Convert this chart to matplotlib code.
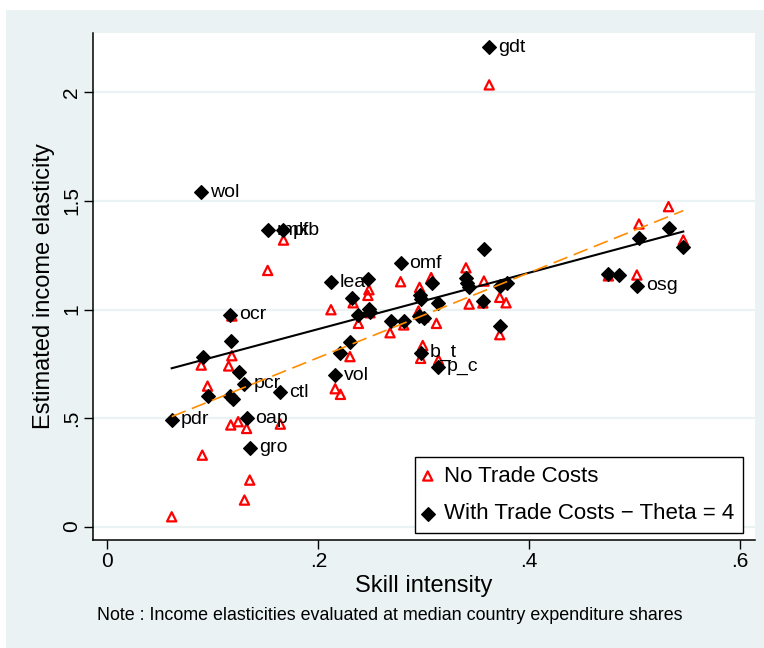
import numpy as np
import matplotlib
matplotlib.use("Agg")
import matplotlib.pyplot as plt
from matplotlib.patches import Rectangle

plt.rcParams['font.family'] = ['Liberation Sans', 'DejaVu Sans']

# No trade costs (red hollow triangles)
x_no_tc = [0.061, 0.089, 0.090, 0.095, 0.118, 0.118, 0.115, 0.117, 0.124, 0.132,
           0.135, 0.130, 0.152, 0.164, 0.167, 0.212, 0.216, 0.221, 0.230, 0.233,
           0.238, 0.248, 0.247, 0.268, 0.278, 0.281, 0.296, 0.295, 0.299, 0.297,
           0.307, 0.312, 0.314, 0.340, 0.343, 0.357, 0.356, 0.362, 0.372, 0.378,
           0.372, 0.475, 0.502, 0.504, 0.532, 0.546, 0.249, 0.300]
y_no_tc = [0.045, 0.744, 0.329, 0.647, 0.970, 0.787, 0.740, 0.468, 0.483, 0.452,
           0.214, 0.122, 1.180, 0.472, 1.320, 0.999, 0.635, 0.609, 0.783, 1.031,
           0.936, 1.091, 1.065, 0.893, 1.128, 0.929, 1.102, 0.993, 0.834, 0.775,
           1.147, 0.936, 0.767, 1.192, 1.025, 1.131, 1.030, 2.035, 1.056, 1.031,
           0.884, 1.155, 1.159, 1.394, 1.474, 1.320, 0.985, 0.965]

# With trade costs, theta = 4 (black diamonds)
x_tc = [0.061, 0.089, 0.091, 0.095, 0.116, 0.117, 0.116, 0.119, 0.125, 0.130,
        0.132, 0.135, 0.152, 0.164, 0.167, 0.212, 0.216, 0.221, 0.230, 0.232,
        0.238, 0.247, 0.248, 0.249, 0.269, 0.278, 0.281, 0.296, 0.297, 0.295,
        0.300, 0.297, 0.308, 0.313, 0.313, 0.340, 0.341, 0.343, 0.356, 0.357,
        0.362, 0.372, 0.379, 0.372, 0.475, 0.485, 0.502, 0.504, 0.532, 0.546]
y_tc = [0.491, 1.541, 0.780, 0.601, 0.975, 0.856, 0.600, 0.588, 0.711, 0.657,
        0.499, 0.363, 1.366, 0.618, 1.366, 1.125, 0.697, 0.800, 0.850, 1.053,
        0.975, 1.139, 1.002, 0.990, 0.947, 1.212, 0.948, 1.067, 1.047, 0.970,
        0.960, 0.801, 1.120, 1.029, 0.736, 1.144, 1.121, 1.105, 1.040, 1.278,
        2.208, 1.110, 1.124, 0.925, 1.164, 1.160, 1.110, 1.328, 1.377, 1.290]
labels_tc = ['pdr', 'wol', '', '', 'ocr', '', '', '', '', 'pcr',
             'oap', 'gro', 'rmk', 'ctl', 'pfb', 'lea', 'vol', '', '', '',
             '', '', '', '', '', 'omf', '', '', '', '',
             '', 'b_t', '', '', 'p_c', '', '', '', '', '',
             'gdt', '', '', '', '', '', 'osg', '', '', '']

# linear fits: (intercept, slope)
fit_no_tc = (0.387, 1.957)
fit_tc = (0.650, 1.299)

x_ticks = [0, 0.2, 0.4, 0.6]
x_tick_labels = ['0', '.2', '.4', '.6']
y_ticks = [0, 0.5, 1, 1.5, 2]
y_tick_labels = ['0', '.5', '1', '1.5', '2']

bg = '#EAF2F3'
fig = plt.figure(figsize=(7.64, 6.48), dpi=100)
fig.patch.set_facecolor('white')
fig.patches.append(Rectangle((6 / 764, 0), 1 - 6 / 764, 1 - 10 / 648,
                             transform=fig.transFigure, facecolor=bg,
                             edgecolor='none', zorder=-10))

ax = fig.add_axes([93 / 764, 1 - 540 / 648, (755 - 93) / 764, (540 - 33) / 648])
ax.set_facecolor('white')
ax.set_xlim(-0.0136, 0.614)
ax.set_ylim(-0.062, 2.274)

for s in ['top', 'right']:
    ax.spines[s].set_visible(False)
for s in ['left', 'bottom']:
    ax.spines[s].set_linewidth(1.1)
    ax.spines[s].set_color('black')

ax.set_xticks(x_ticks)
ax.set_xticklabels(x_tick_labels)
ax.set_yticks(y_ticks)
ax.set_yticklabels(y_tick_labels, rotation=90, va='center')
ax.tick_params(axis='both', labelsize=15, length=6.5, width=1.0, pad=2)
ax.yaxis.grid(True, color=bg, linewidth=1.6)
ax.set_axisbelow(True)

ax.scatter(x_no_tc, y_no_tc, marker='^', s=44, facecolors='none',
           edgecolors='#FF0000', linewidths=1.6, label='No Trade Costs', zorder=3)
ax.scatter(x_tc, y_tc, marker='D', s=48, color='black',
           label='With Trade Costs \u2212 Theta = 4', zorder=4)

for xv, yv, lab in zip(x_tc, y_tc, labels_tc):
    if lab:
        ax.annotate(lab, (xv, yv), xytext=(6.5, 0), textcoords='offset points',
                    fontsize=14, va='center', ha='left', zorder=5)

xs = np.array([min(x_tc), max(x_tc)])
ax.plot(xs, fit_tc[0] + fit_tc[1] * xs, color='black', lw=1.5, zorder=5)
ax.plot(xs, fit_no_tc[0] + fit_no_tc[1] * xs, color='#FF8C00', lw=1.2,
        dashes=(9, 4), zorder=5)

ax.set_xlabel('Skill intensity', fontsize=17, labelpad=3)
ax.set_ylabel('Estimated income elasticity', fontsize=17, labelpad=5)

leg = ax.legend(loc='lower right', bbox_to_anchor=(0.982, 0.014),
                fontsize=16, frameon=True, fancybox=False, edgecolor='black',
                framealpha=1, borderaxespad=0, handletextpad=0.55,
                handlelength=0.4, labelspacing=0.75, borderpad=0.38)
leg.get_frame().set_linewidth(1.0)

fig.text(97 / 764, 1 - 615 / 648,
         'Note : Income elasticities evaluated at median country expenditure shares',
         fontsize=12.9, ha='left', va='center')

fig.savefig('out.png', dpi=100, facecolor=fig.get_facecolor())
